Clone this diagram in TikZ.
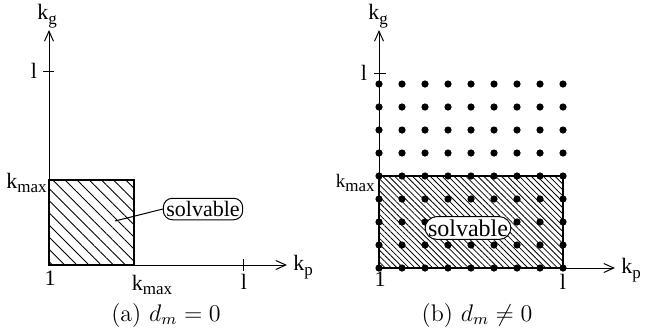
\documentclass[tikz,border=0pt]{standalone}
\usepackage{fontspec}
\usepackage{tikz}
\usetikzlibrary{arrows.meta,patterns.meta}
\newfontfamily\figfont{Liberation Serif}
\newcommand{\ksub}[1]{k\raisebox{-0.45ex}{\fontsize{8.5}{9}\selectfont #1}}
\tikzset{
  axis/.style={line width=0.5pt,-{Straight Barb[length=5pt,width=4.5pt,line width=0.5pt]}},
  tick/.style={line width=0.5pt},
  lab/.style={font=\figfont\fontsize{11}{13}\selectfont,inner sep=1pt},
  labs/.style={font=\figfont\fontsize{9.5}{11}\selectfont,inner sep=1pt},
  capt/.style={font=\fontsize{12}{14}\selectfont},
  region/.style={draw,line width=0.7pt},
  tag/.style={draw,rounded corners=4.5pt,fill=white,line width=0.5pt,inner sep=1.5pt,minimum height=9pt},
  dot/.style={fill=black},
}

\begin{document}
\begin{tikzpicture}[x=0.5pt,y=-0.5pt]
  \useasboundingbox (0,0) rectangle (646,334);
  % (a)
  \coordinate (oA) at (49,265);
  \coordinate (gA) at (49,30);
  \coordinate (pA) at (287,265);
  \filldraw[region,pattern={Lines[angle=-45,distance=4.3pt,line width=0.45pt]}] (49,180) rectangle (134,265);
  \draw[axis] (oA) -- (gA);
  \draw[axis] (oA) -- (pA);
  \draw[tick] (43,71) -- (54,71);
  \draw[tick] (243,259) -- (243,271);
  \node[lab] (kgA) at (47,16) {\ksub{g}};
  \node[lab,anchor=west] (kpA) at (291,267) {\ksub{p}};
  \node[lab] (lgA) at (34,71) {l};
  \node[lab] (lpA) at (244,282) {l};
  \node[lab] (oneA) at (50,278) {1};
  \node[lab,anchor=east] (kmA) at (49,183) {\ksub{max}};
  \node[lab] (kmxA) at (152,285) {\ksub{max}};
  \node[lab,tag] (solvA) at (203,209) {solvable};
  \coordinate (hA) at (115,221);
  \draw[tick] (hA) -- (solvA.west);
  \node[capt] (captA) at (166,315) {(a) $d_m = 0$};
  % (b)
  \coordinate (oB) at (379,268);
  \coordinate (gB) at (379,30);
  \coordinate (pB) at (615,268);
  \filldraw[region,pattern={Lines[angle=-45,distance=2.1pt,line width=0.4pt]}] (379,176) rectangle (563,268);
  \fill[dot] (379,84) circle (3.6) (402,84) circle (3.6) (425,84) circle (3.6) (448,84) circle (3.6) (471,84) circle (3.6) (494,84) circle (3.6) (517,84) circle (3.6) (540,84) circle (3.6) (563,84) circle (3.6);
  \fill[dot] (379,107) circle (3.6) (402,107) circle (3.6) (425,107) circle (3.6) (448,107) circle (3.6) (471,107) circle (3.6) (494,107) circle (3.6) (517,107) circle (3.6) (540,107) circle (3.6) (563,107) circle (3.6);
  \fill[dot] (379,130) circle (3.6) (402,130) circle (3.6) (425,130) circle (3.6) (448,130) circle (3.6) (471,130) circle (3.6) (494,130) circle (3.6) (517,130) circle (3.6) (540,130) circle (3.6) (563,130) circle (3.6);
  \fill[dot] (379,153) circle (3.6) (402,153) circle (3.6) (425,153) circle (3.6) (448,153) circle (3.6) (471,153) circle (3.6) (494,153) circle (3.6) (517,153) circle (3.6) (540,153) circle (3.6) (563,153) circle (3.6);
  \fill[dot] (379,176) circle (3.6) (402,176) circle (3.6) (425,176) circle (3.6) (448,176) circle (3.6) (471,176) circle (3.6) (494,176) circle (3.6) (517,176) circle (3.6) (540,176) circle (3.6) (563,176) circle (3.6);
  \fill[dot] (379,199) circle (3.6) (402,199) circle (3.6) (425,199) circle (3.6) (448,199) circle (3.6) (471,199) circle (3.6) (494,199) circle (3.6) (517,199) circle (3.6) (540,199) circle (3.6) (563,199) circle (3.6);
  \fill[dot] (379,222) circle (3.6) (402,222) circle (3.6) (425,222) circle (3.6) (448,222) circle (3.6) (471,222) circle (3.6) (494,222) circle (3.6) (517,222) circle (3.6) (540,222) circle (3.6) (563,222) circle (3.6);
  \fill[dot] (379,245) circle (3.6) (402,245) circle (3.6) (425,245) circle (3.6) (448,245) circle (3.6) (471,245) circle (3.6) (494,245) circle (3.6) (517,245) circle (3.6) (540,245) circle (3.6) (563,245) circle (3.6);
  \fill[dot] (379,268) circle (3.6) (402,268) circle (3.6) (425,268) circle (3.6) (448,268) circle (3.6) (471,268) circle (3.6) (494,268) circle (3.6) (517,268) circle (3.6) (540,268) circle (3.6) (563,268) circle (3.6);
  \draw[axis] (oB) -- (gB);
  \draw[axis] (oB) -- (pB);
  \draw[tick] (374,73) -- (386,73);
  \node[lab] (kgB) at (378,16) {\ksub{g}};
  \node[lab,anchor=west] (kpB) at (619,270) {\ksub{p}};
  \node[lab] (lgB) at (364,73) {l};
  \node[lab] (lpB) at (563,282) {l};
  \node[lab] (oneB) at (380,279) {1};
  \node[labs,anchor=east] (kmB) at (377,183) {\ksub{max}};
  \node[lab,tag,font=\figfont\fontsize{12}{14}\selectfont,rounded corners=6pt] (solvB) at (468,228) {solvable};
  \node[capt] (captB) at (477,315) {(b) $d_m \neq 0$};
\end{tikzpicture}
\end{document}
